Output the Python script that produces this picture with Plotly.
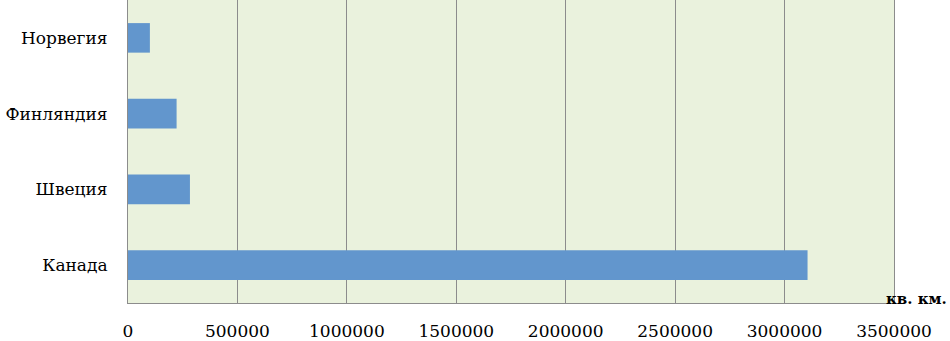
import plotly.graph_objects as go

countries = ["Норвегия", "Финляндия", "Швеция", "Канада"]
area = [100000, 222000, 283000, 3105000]
x_ticks = [0, 500000, 1000000, 1500000, 2000000, 2500000, 3000000, 3500000]
unit_label = "кв. км."

font_family = "DejaVu Serif"

fig = go.Figure(
    go.Bar(
        x=area,
        y=countries,
        orientation="h",
        marker=dict(color="#6296CD", line=dict(width=0)),
    )
)

fig.update_layout(
    width=950,
    height=341,
    margin=dict(l=128, r=56, t=0, b=35),
    paper_bgcolor="white",
    plot_bgcolor="#EAF2DD",
    bargap=0.61,
    showlegend=False,
    font=dict(family=font_family, size=17, color="black"),
)

fig.update_xaxes(
    range=[0, 3500000],
    tickvals=x_ticks,
    ticktext=[str(v) for v in x_ticks],
    showgrid=True,
    gridcolor="#8C8C8C",
    gridwidth=1,
    showline=True,
    linecolor="#8C8C8C",
    linewidth=1,
    zeroline=False,
    ticks="",
    ticklabelstandoff=13,
    tickfont=dict(family=font_family, size=17),
)

fig.update_yaxes(
    autorange="reversed",
    showgrid=False,
    showline=True,
    mirror=True,
    linecolor="#8C8C8C",
    linewidth=1,
    ticks="",
    ticklabelstandoff=16,
    tickfont=dict(family=font_family, size=17),
)

fig.add_annotation(
    text="<b>" + unit_label + "</b>",
    xref="paper",
    yref="paper",
    x=1.0,
    y=0.0,
    xanchor="left",
    yanchor="middle",
    xshift=-10,
    yshift=4,
    showarrow=False,
    font=dict(family=font_family, size=15, color="black"),
)

fig.write_html(
    "out.html",
    config={"displayModeBar": False},
    post_script="document.body.style.margin='0';document.body.style.padding='0';",
)
